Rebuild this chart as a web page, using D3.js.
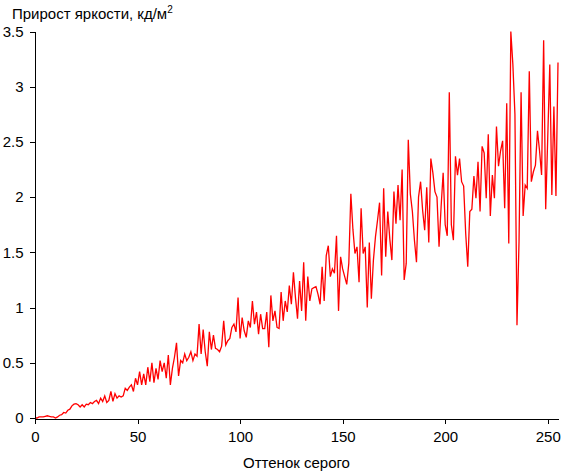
<!DOCTYPE html>
<html>
<head>
<meta charset="utf-8">
<script src="https://cdn.jsdelivr.net/npm/d3@7"></script>
<style>
  html, body { margin: 0; padding: 0; background: #fff; }
  svg { display: block; font-family: "Liberation Sans", Arial, sans-serif; }
</style>
</head>
<body>
<svg id="chart" width="561" height="471"></svg>
<script>
// ---- data ----
const chartTitle = "Прирост яркости, кд/м";
const chartTitleSup = "2";
const xAxisTitle = "Оттенок серого";
const xTickValues = [0, 50, 100, 150, 200, 250];
const yTickValues = [0, 0.5, 1, 1.5, 2, 2.5, 3, 3.5];
const yTickLabels = ["0", "0.5", "1", "1.5", "2", "2.5", "3", "3.5"];
// brightness increment for gray shades 0..255
const brightnessGain = [
  0.00, 0.00, 0.01, 0.01, 0.01, 0.015, 0.02, 0.015, 0.01, 0.01,
  0.00, 0.01, 0.025, 0.03, 0.05, 0.045, 0.07, 0.08, 0.11, 0.125,
  0.13, 0.12, 0.10, 0.12, 0.10, 0.125, 0.12, 0.14, 0.13, 0.15,
  0.16, 0.13, 0.18, 0.15, 0.20, 0.14, 0.16, 0.24, 0.15, 0.22,
  0.18, 0.20, 0.19, 0.20, 0.27, 0.25, 0.28, 0.30, 0.24, 0.36,
  0.30, 0.42, 0.30, 0.40, 0.30, 0.46, 0.33, 0.50, 0.32, 0.45,
  0.35, 0.52, 0.42, 0.50, 0.36, 0.57, 0.30, 0.45, 0.55, 0.68,
  0.38, 0.52, 0.50, 0.58, 0.52, 0.55, 0.60, 0.52, 0.58, 0.56,
  0.85, 0.58, 0.80, 0.60, 0.47, 0.78, 0.62, 0.75, 0.63, 0.62,
  0.60, 0.65, 0.88, 0.66, 0.70, 0.72, 0.82, 0.85, 0.78, 1.09,
  0.72, 0.91, 0.79, 0.73, 0.88, 0.82, 1.06, 0.85, 0.96, 0.76,
  0.94, 0.81, 0.81, 0.96, 0.64, 1.11, 0.88, 0.97, 0.82, 0.81,
  1.14, 0.88, 1.06, 0.96, 1.20, 1.03, 1.32, 1.09, 0.90, 1.24,
  0.97, 1.41, 0.88, 1.28, 1.06, 1.17, 1.18, 1.19, 1.12, 1.03,
  1.37, 1.06, 1.47, 1.56, 1.28, 1.35, 1.31, 1.65, 0.97, 1.46,
  1.35, 1.28, 1.21, 1.40, 2.03, 1.71, 1.49, 1.55, 1.23, 1.90,
  1.49, 1.55, 1.00, 1.59, 1.08, 1.43, 1.64, 1.79, 1.95, 1.29,
  2.08, 1.46, 1.87, 1.62, 1.43, 2.05, 1.76, 2.11, 1.79, 2.25,
  1.25, 1.40, 2.52, 2.03, 1.87, 1.61, 1.41, 2.00, 2.14, 1.88,
  1.70, 2.09, 1.59, 2.35, 2.22, 2.05, 2.00, 1.55, 1.91, 2.22,
  1.75, 1.65, 2.95, 1.75, 1.61, 2.37, 2.20, 2.35, 2.14, 2.10,
  1.67, 1.37, 1.87, 1.89, 2.19, 1.99, 2.32, 1.87, 2.46, 2.40,
  1.99, 2.57, 1.83, 2.20, 1.99, 2.64, 2.28, 2.42, 2.51, 1.90,
  2.85, 1.58, 3.50, 3.20, 2.75, 0.84, 1.60, 2.95, 1.83, 2.11,
  2.08, 3.14, 2.14, 2.23, 2.29, 2.60, 2.42, 2.20, 3.42, 1.89,
  2.54, 3.20, 2.02, 2.82, 2.01, 3.22
];
const firstShade = 0;

// ---- chart ----
const svg = d3.select("#chart");
const plot = { left: 35, right: 558, top: 31.5, bottom: 418 };

const x = d3.scaleLinear().domain([0, 255]).range([plot.left, plot.right]);
const y = d3.scaleLinear().domain([0, 3.5]).range([plot.bottom, plot.top]);

const points = brightnessGain.map((v, i) => ({ shade: firstShade + i, value: v }));

// data line
const line = d3.line().x(d => x(d.shade)).y(d => y(d.value));
svg.append("path")
  .datum(points)
  .attr("fill", "none")
  .attr("stroke", "#ff0000")
  .attr("stroke-width", 1.3)
  .attr("stroke-linejoin", "miter")
  .attr("d", line);

// y axis
const yAxis = d3.axisLeft(y)
  .tickValues(yTickValues)
  .tickFormat((d, i) => yTickLabels[i])
  .tickSize(5)
  .tickSizeOuter(0)
  .tickPadding(6);
const gy = svg.append("g")
  .attr("transform", `translate(${plot.left - 0.5},0)`)
  .call(yAxis);

// x axis
const xAxis = d3.axisBottom(x)
  .tickValues(xTickValues)
  .tickFormat(d3.format("d"))
  .tickSize(5)
  .tickSizeOuter(0)
  .tickPadding(8);
const gx = svg.append("g")
  .attr("transform", `translate(0,${plot.bottom + 0.5})`)
  .call(xAxis);

[gx, gy].forEach(g => {
  g.select(".domain").attr("stroke", "#000").attr("shape-rendering", "crispEdges");
  g.selectAll(".tick line").attr("stroke", "#000").attr("shape-rendering", "crispEdges");
  g.selectAll(".tick text")
    .attr("fill", "#000")
    .style("font-family", "'Liberation Sans', Arial, sans-serif")
    .style("font-size", "15px");
});

// titles
const title = svg.append("text")
  .attr("x", 12)
  .attr("y", 19)
  .attr("fill", "#000")
  .style("font-size", "15px");
title.append("tspan").text(chartTitle);
title.append("tspan")
  .attr("dy", -6)
  .style("font-size", "10px")
  .text(chartTitleSup);

svg.append("text")
  .attr("x", (plot.left + plot.right) / 2)
  .attr("y", 468)
  .attr("text-anchor", "middle")
  .attr("fill", "#000")
  .style("font-size", "15px")
  .text(xAxisTitle);
</script>
</body>
</html>
